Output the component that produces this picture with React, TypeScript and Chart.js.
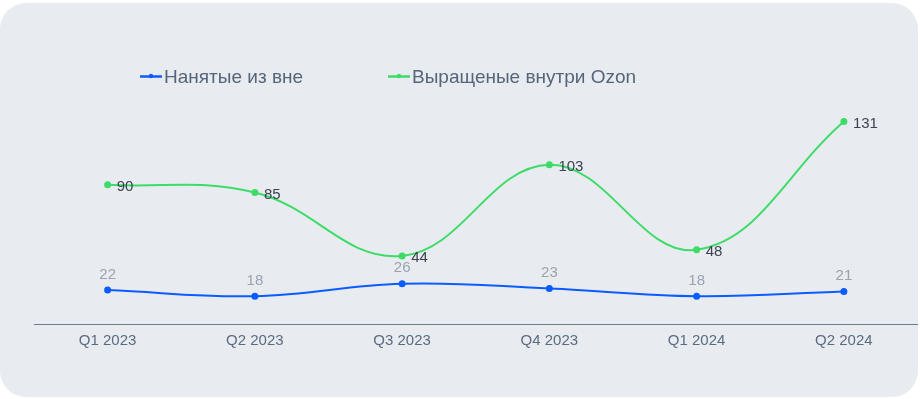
import React, { useEffect, useRef } from "react";
import { Chart, registerables } from "chart.js";

Chart.register(...registerables);

const categories = ["Q1 2023", "Q2 2023", "Q3 2023", "Q4 2023", "Q1 2024", "Q2 2024"];
const hiredOutside = [22, 18, 26, 23, 18, 21];
const grownInside = [90, 85, 44, 103, 48, 131];
const seriesNames = ["Нанятые из вне", "Выращеные внутри Ozon"];

const BLUE = "#0b5cff";
const GREEN = "#3ddc68";
const FONT = "'Liberation Sans', Arial, sans-serif";

const labelsPlugin = {
  id: "valueLabels",
  afterDatasetsDraw(chart: any) {
    const ctx = chart.ctx;
    ctx.save();
    ctx.font = `15px ${FONT}`;
    chart.data.datasets.forEach((ds: any, i: number) => {
      const meta = chart.getDatasetMeta(i);
      meta.data.forEach((pt: any, j: number) => {
        const v = ds.data[j];
        if (i === 0) {
          ctx.fillStyle = "#9aa3ae";
          ctx.textAlign = "center";
          ctx.textBaseline = "bottom";
          ctx.fillText(String(v), pt.x, pt.y - 8);
        } else {
          ctx.fillStyle = "#3b4350";
          ctx.textAlign = "left";
          ctx.textBaseline = "middle";
          ctx.fillText(String(v), pt.x + 9, pt.y + 2);
        }
      });
    });
    ctx.restore();
  },
};

const legendPlugin = {
  id: "customLegend",
  afterDraw(chart: any) {
    const ctx = chart.ctx;
    ctx.save();
    const items = [
      { x: 140, color: BLUE, text: seriesNames[0] },
      { x: 388, color: GREEN, text: seriesNames[1] },
    ];
    const y = 73.5;
    ctx.font = `19px ${FONT}`;
    items.forEach((it) => {
      ctx.strokeStyle = it.color;
      ctx.lineWidth = 2.5;
      ctx.beginPath();
      ctx.moveTo(it.x, y);
      ctx.lineTo(it.x + 22, y);
      ctx.stroke();
      ctx.fillStyle = it.color;
      ctx.beginPath();
      ctx.arc(it.x + 11, y - 0.5, 2.2, 0, Math.PI * 2);
      ctx.fill();
      ctx.fillStyle = "#56657a";
      ctx.textAlign = "left";
      ctx.textBaseline = "middle";
      ctx.fillText(it.text, it.x + 24, y + 1);
    });
    ctx.restore();
  },
};

export default function App() {
  const ref = useRef<HTMLCanvasElement | null>(null);
  useEffect(() => {
    if (!ref.current) return;
    const chart = new Chart(ref.current, {
      type: "line",
      data: {
        labels: categories,
        datasets: [
          {
            label: seriesNames[0],
            data: hiredOutside,
            borderColor: BLUE,
            backgroundColor: BLUE,
            borderWidth: 2,
            pointRadius: 2.5,
            pointHoverRadius: 2.5,
            tension: 0.4,
          },
          {
            label: seriesNames[1],
            data: grownInside,
            borderColor: GREEN,
            backgroundColor: GREEN,
            borderWidth: 2,
            pointRadius: 2.5,
            pointHoverRadius: 2.5,
            tension: 0.4,
          },
        ],
      },
      options: {
        animation: false,
        responsive: false,
        maintainAspectRatio: false,
        layout: { padding: { left: 34, right: 0, top: 89, bottom: 39 } },
        plugins: { legend: { display: false }, tooltip: { enabled: false } },
        scales: {
          x: {
            offset: true,
            grid: { display: false, drawTicks: false },
            border: { display: true, color: "#6b7b8f", width: 1 },
            ticks: { color: "#5b6b7f", font: { size: 15, family: FONT }, padding: 8, maxRotation: 0 },
          },
          y: {
            display: false,
            min: 0,
            max: 150,
          },
        },
      },
      plugins: [labelsPlugin, legendPlugin],
    });
    return () => chart.destroy();
  }, []);
  return (
    <div style={{ position: "fixed", left: 0, top: 0, width: 920, height: 399, background: "#ffffff" }}>
      <div
        style={{
          position: "absolute",
          left: 0,
          top: 3,
          width: 918,
          height: 394,
          borderRadius: 26,
          background: "#e8ecf0",
          overflow: "hidden",
        }}
      >
        <canvas ref={ref} width={922} height={394} style={{ display: "block" }} />
      </div>
    </div>
  );
}
